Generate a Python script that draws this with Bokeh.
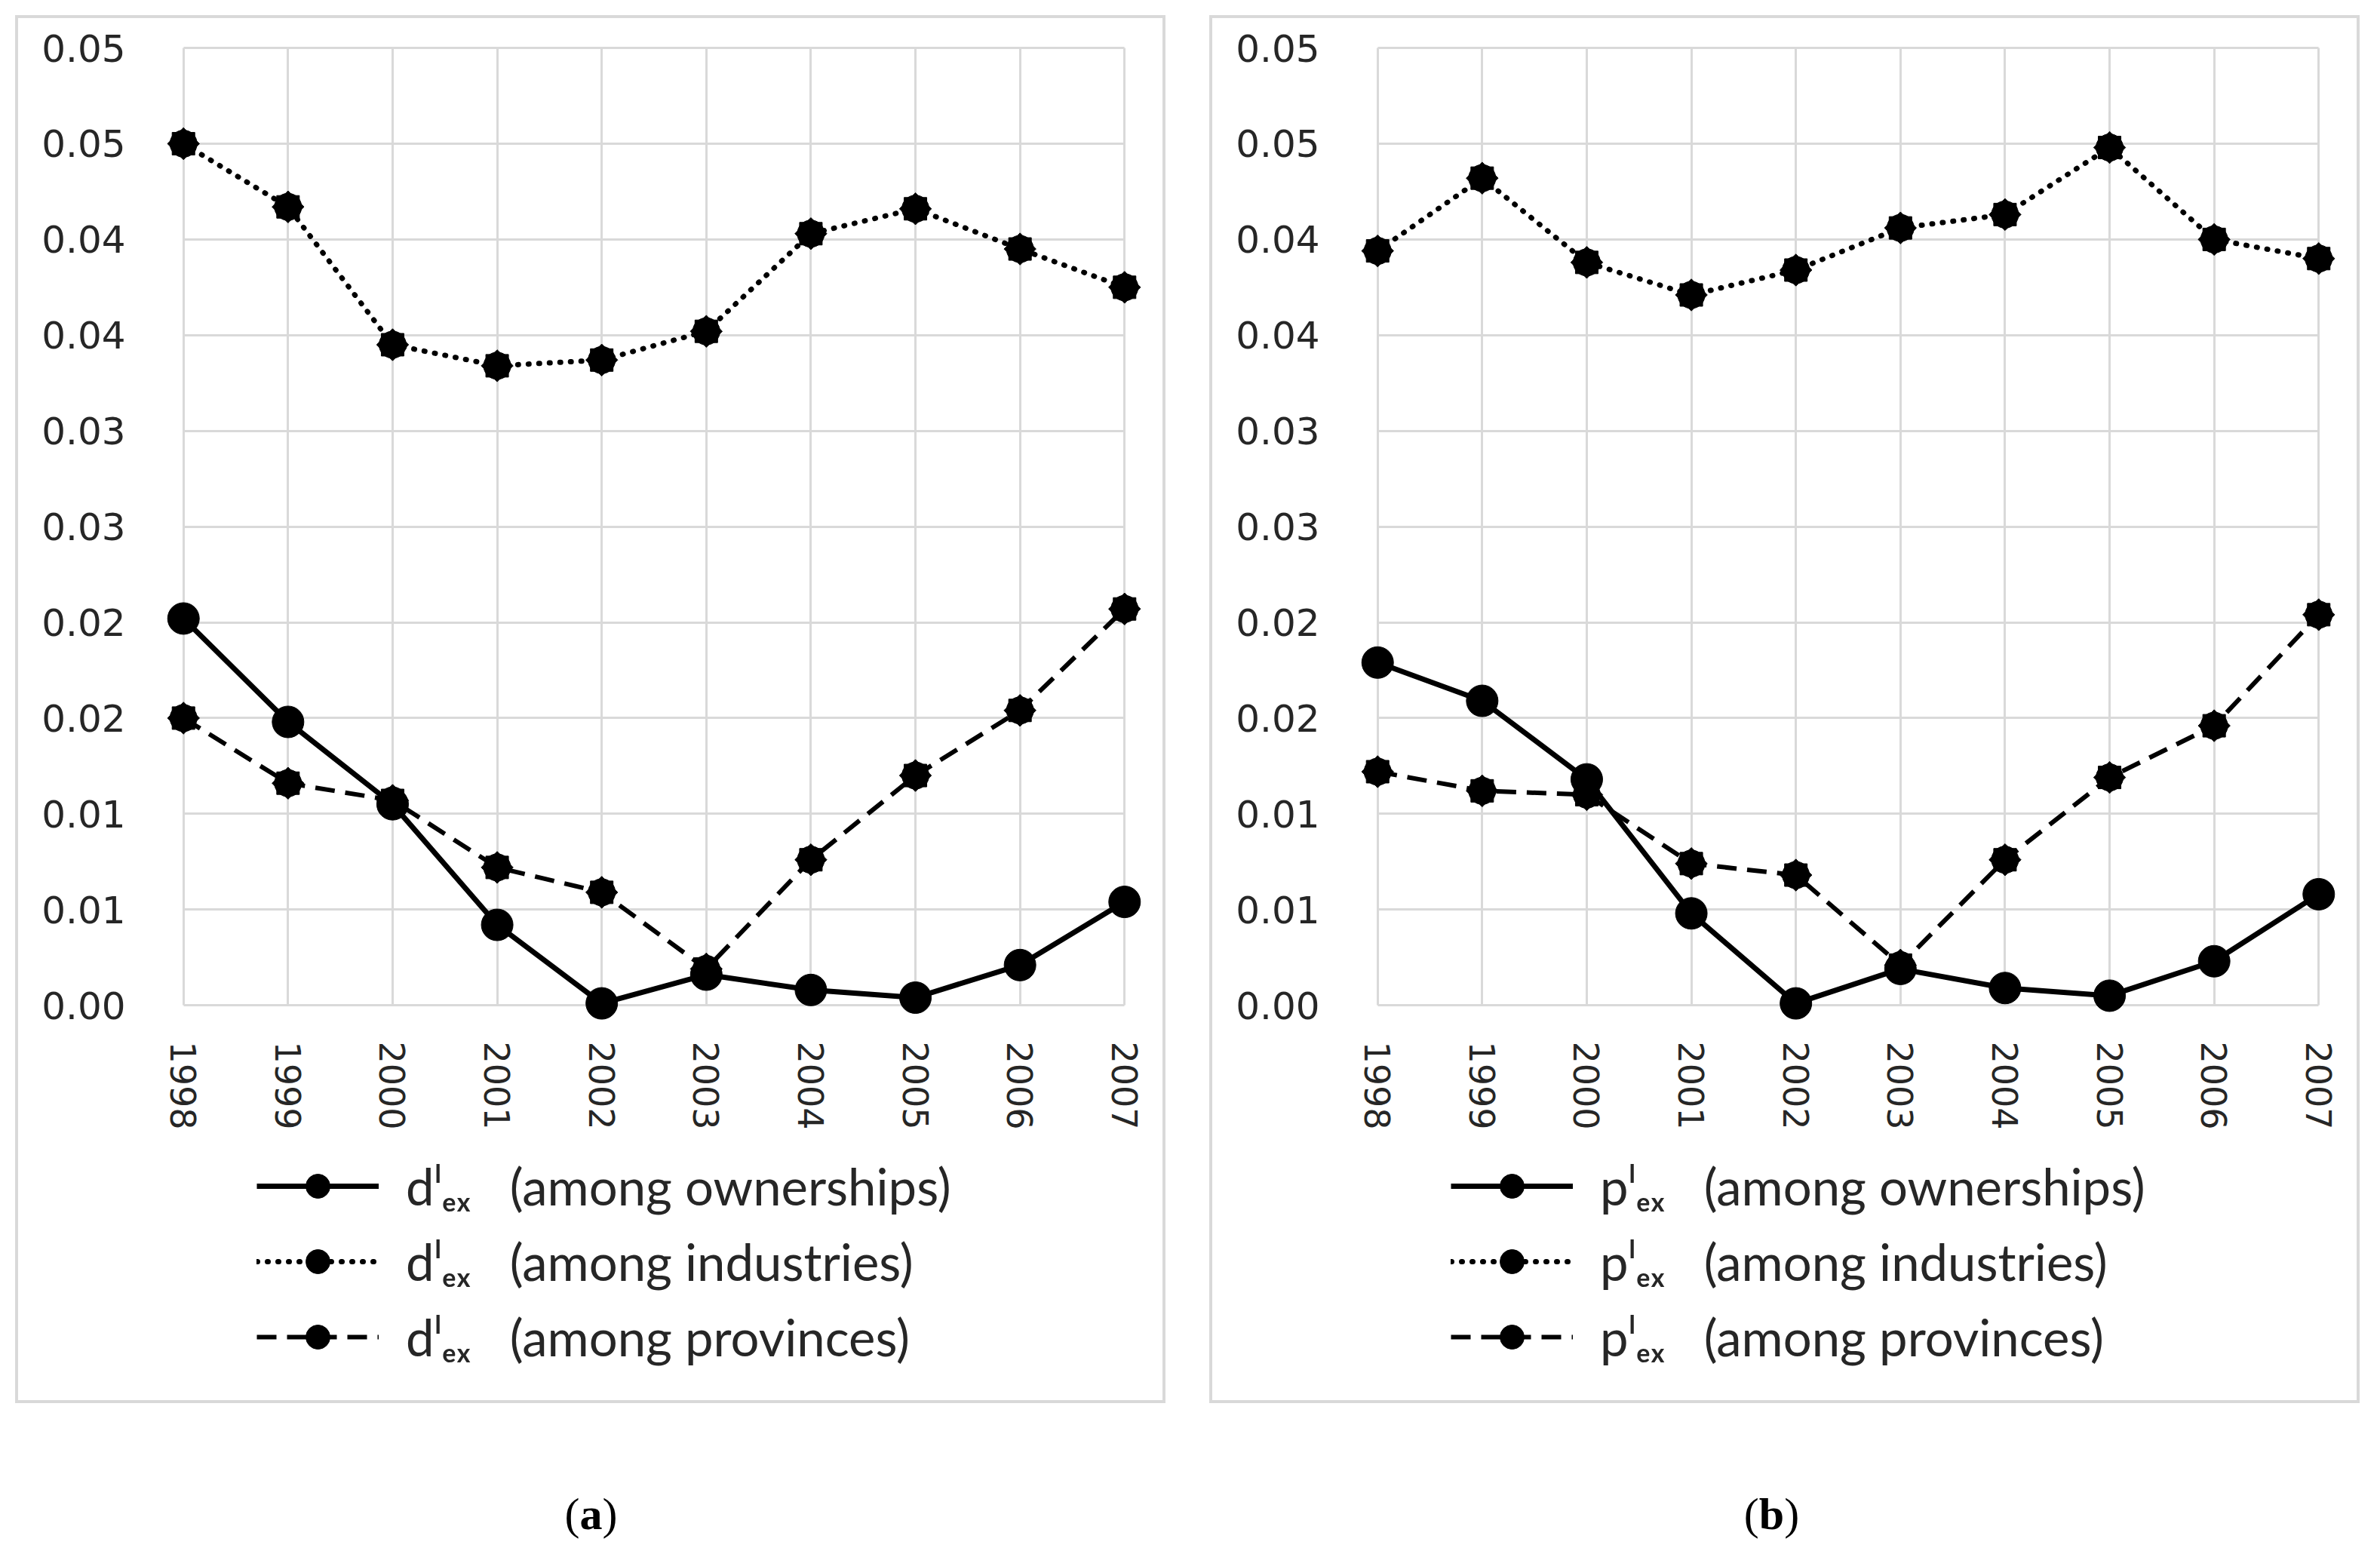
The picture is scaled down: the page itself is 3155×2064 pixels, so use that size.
import math
from bokeh.plotting import figure
from bokeh.models import FixedTicker, CustomJSTickFormatter, Legend, LegendItem, Div, Spacer
from bokeh.layouts import row, column
from bokeh.embed import file_html
from bokeh.resources import INLINE

# ---------------- data ----------------
YEARS = [1998, 1999, 2000, 2001, 2002, 2003, 2004, 2005, 2006, 2007]

A_OWNERSHIPS = [0.0202, 0.0148, 0.0105, 0.0042, 0.0001, 0.0016, 0.0008, 0.0004, 0.0021, 0.0054]
A_INDUSTRIES = [0.0450, 0.0417, 0.0345, 0.0334, 0.0337, 0.0352, 0.0403, 0.0416, 0.0395, 0.0375]
A_PROVINCES = [0.0150, 0.0116, 0.0107, 0.0072, 0.0059, 0.0019, 0.0076, 0.0120, 0.0154, 0.0207]

B_OWNERSHIPS = [0.0179, 0.0159, 0.0118, 0.0048, 0.0001, 0.0019, 0.0009, 0.0005, 0.0023, 0.0058]
B_INDUSTRIES = [0.0394, 0.0432, 0.0388, 0.0371, 0.0384, 0.0406, 0.0413, 0.0448, 0.0400, 0.0390]
B_PROVINCES = [0.0122, 0.0112, 0.0110, 0.0074, 0.0068, 0.0021, 0.0076, 0.0119, 0.0146, 0.0204]

Y_TICKS = [0.0, 0.005, 0.01, 0.015, 0.02, 0.025, 0.03, 0.035, 0.04, 0.045, 0.05]
Y_TICK_LABELS = ["0.00", "0.01", "0.01", "0.02", "0.02", "0.03", "0.03", "0.04", "0.04", "0.05", "0.05"]
X_TICK_LABELS = [str(y) for y in YEARS]

SERIES_NAMES = ["(among ownerships)", "(among industries)", "(among provinces)"]
PANEL_LABELS = ["a", "b"]
SYMBOLS = ["d", "p"]

GRID_COLOR = "#d9d9d9"
TEXT_COLOR = "#262626"
BOX_W = 1517
PLOT_H = 1476
LEG_H = 356

LOOKUP = ("for (let i=0;i<tv.length;i++){ if (Math.abs(tv[i]-tick)<1e-7) return lb[i]; } return '';")


def add_series(fig, own, ind, prov):
    r1l = fig.line(YEARS, own, line_color="black", line_width=7)
    r1m = fig.scatter(YEARS, own, marker="circle", size=42, color="black")

    r2l = fig.line(YEARS, ind, line_color="black", line_width=7, line_dash="1 13", line_cap="round")
    r2a = fig.scatter(YEARS, ind, marker="circle", size=36, color="black")
    r2b = fig.scatter(YEARS, ind, marker="square", size=30, color="black")
    r2c = fig.scatter(YEARS, ind, marker="square", size=30, angle=math.pi / 4, color="black")

    r3l = fig.line(YEARS, prov, line_color="black", line_width=6, line_dash="26 14")
    r3a = fig.scatter(YEARS, prov, marker="circle", size=36, color="black")
    r3b = fig.scatter(YEARS, prov, marker="square", size=30, color="black")
    r3c = fig.scatter(YEARS, prov, marker="square", size=30, angle=math.pi / 4, color="black")
    # line + round marker for each legend sample
    return [[r1l, r1m], [r2l, r2a], [r3l, r3a]]


def make_panel(sym, own, ind, prov):
    p = figure(width=BOX_W, height=PLOT_H,
               x_range=(1997.8, 2007.2), y_range=(-0.00098, 0.0502),
               output_backend="svg", toolbar_location=None,
               min_border_left=191, min_border_right=23,
               min_border_top=34, min_border_bottom=140)
    p.outline_line_color = None
    p.background_fill_color = "white"
    p.border_fill_color = "white"

    xt = FixedTicker(ticks=YEARS)
    yt = FixedTicker(ticks=Y_TICKS)
    p.xaxis.ticker = xt
    p.yaxis.ticker = yt
    p.xgrid.ticker = xt
    p.ygrid.ticker = yt
    p.xaxis.formatter = CustomJSTickFormatter(args=dict(tv=YEARS, lb=X_TICK_LABELS), code=LOOKUP)
    p.yaxis.formatter = CustomJSTickFormatter(args=dict(tv=Y_TICKS, lb=Y_TICK_LABELS), code=LOOKUP)
    for ax in (p.xaxis[0], p.yaxis[0]):
        ax.axis_line_color = None
        ax.major_tick_line_color = None
        ax.minor_tick_line_color = None
        ax.major_label_text_font = "DejaVu Sans"
        ax.major_label_text_color = TEXT_COLOR
    p.yaxis.major_label_text_font_size = "50px"
    p.xaxis.major_label_text_font_size = "46px"
    p.yaxis.major_label_standoff = 43
    p.xaxis.major_label_standoff = 17
    p.xaxis.major_label_orientation = -math.pi / 2

    p.xgrid.grid_line_color = GRID_COLOR
    p.ygrid.grid_line_color = GRID_COLOR
    p.xgrid.grid_line_width = 3
    p.ygrid.grid_line_width = 3
    try:
        p.xgrid.cross_bounds = (0.0, 0.05)
        p.ygrid.cross_bounds = (1998, 2007)
    except Exception:
        pass

    add_series(p, own, ind, prov)

    # legend strip (its own small figure, same styled renderers kept out of view)
    lf = figure(width=BOX_W, height=LEG_H, x_range=(0, 1), y_range=(0, 1),
                x_axis_type=None, y_axis_type=None,
                output_backend="svg", toolbar_location=None,
                min_border_left=0, min_border_right=0, min_border_top=0, min_border_bottom=0)
    lf.outline_line_color = None
    lf.xgrid.visible = False
    lf.ygrid.visible = False
    lf.background_fill_color = "white"
    lf.border_fill_color = "white"
    groups = add_series(lf, own, ind, prov)

    prefix = sym + "\u02E1\u2091\u2093   "
    legend = Legend(items=[
        LegendItem(label=prefix + name, renderers=rs) for name, rs in zip(SERIES_NAMES, groups)
    ], location=(125, 44), orientation="vertical")
    legend.border_line_color = None
    legend.background_fill_alpha = 0
    legend.label_text_font = "Lato"
    legend.label_text_font_size = "67px"
    legend.label_text_color = TEXT_COLOR
    legend.glyph_width = 162
    legend.glyph_height = 80
    legend.label_height = 80
    legend.label_standoff = 36
    legend.spacing = 20
    legend.padding = 5
    legend.margin = 0
    lf.add_layout(legend)

    return column(p, lf, spacing=0, styles={"border": "4px solid #d9d9d9"})


box1 = make_panel(SYMBOLS[0], A_OWNERSHIPS, A_INDUSTRIES, A_PROVINCES)
box2 = make_panel(SYMBOLS[1], B_OWNERSHIPS, B_INDUSTRIES, B_PROVINCES)


def label_div(letter, inner_w):
    html = ('<div style="width:%dpx;text-align:center;font-family:\'Liberation Serif\';'
            'font-size:60px;color:black;padding-top:100px;">(<b>%s</b>)</div>' % (inner_w, letter))
    return Div(text=html, width=BOX_W, height=170)


layout = column(
    Spacer(height=20),
    row(Spacer(width=20), box1, Spacer(width=58), box2),
    row(Spacer(width=20), label_div(PANEL_LABELS[0], BOX_W), Spacer(width=58),
        label_div(PANEL_LABELS[1], BOX_W - 40)),
)

open("out.html", "w").write(file_html(layout, INLINE))
